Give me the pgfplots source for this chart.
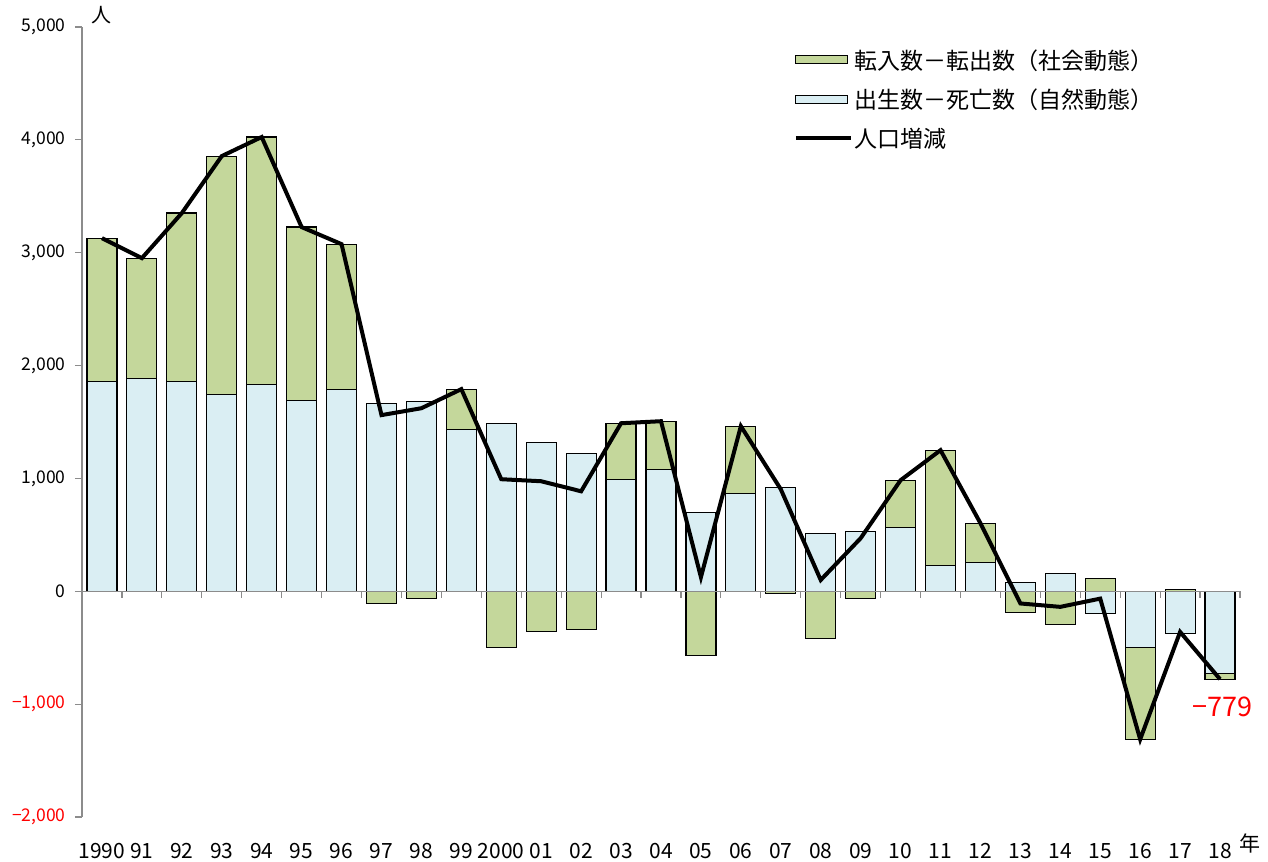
\documentclass[border=0pt]{standalone}
\usepackage{pgfplots}
\pgfplotsset{compat=1.18}
\usepackage{pgfplotstable}
\usepackage{fontspec}
\setmainfont{Noto Sans CJK JP}
\definecolor{socgreen}{HTML}{C4D79B}
\definecolor{natblue}{HTML}{DAEEF3}
\definecolor{axgray}{HTML}{8C8C8C}
% idx  nat = natural change, grn = far end of green bar (drawn from 0), tot = population change
\pgfplotstableread{
idx nat grn tot
0 1862 3129 3129
1 1888 2952 2952
2 1862 3351 3351
3 1746 3856 3856
4 1835 4025 4025
5 1693 3227 3227
6 1791 3076 3076
7 1667 -106 1561
8 1684 -62 1622
9 1436 1791 1791
10 1489 -496 993
11 1321 -355 975
12 1223 -337 886
13 993 1489 1489
14 1082 1507 1507
15 700 -567 125
16 869 1463 1463
17 922 -18 904
18 514 -417 100
19 532 -62 470
20 567 984 984
21 230 1250 1250
22 257 603 603
23 75 -186 -108
24 160 -293 -138
25 -195 115 -65
26 -496 -1312 -1312
27 -373 18 -360
28 -729 -779 -779
}\datatab
\begin{document}
\begin{tikzpicture}
\begin{axis}[
  scale only axis,
  width=1158pt, height=790pt,
  xmin=-0.5, xmax=28.5, ymin=-2000, ymax=5000,
  axis y line*=left,
  axis x line*=bottom,
  x axis line style={draw=none},
  y axis line style={draw=axgray, line width=1.2pt},
  xtick={0,...,28},
  xticklabels={1990,91,92,93,94,95,96,97,98,99,2000,01,02,03,04,05,06,07,08,09,10,11,12,13,14,15,16,17,18},
  major x tick style={draw=none},
  xticklabel style={font=\fontsize{21}{24}\selectfont, anchor=base, yshift=-34pt},
  ytick={-2000,-1000,0,1000,2000,3000,4000,5000},
  yticklabels={{\color{red}−2,000},{\color{red}−1,000},0,{1,000},{2,000},{3,000},{4,000},{5,000}},
  yticklabel style={font=\fontsize{17.5}{20}\selectfont, anchor=east, xshift=-6pt},
  major y tick style={draw=axgray, line width=1.2pt},
  tick align=outside,
  major tick length=7pt,
  clip=false,
  legend style={at={(rel axis cs:0.612,0.977)}, anchor=north west, draw=none, fill=none,
    font=\fontsize{23}{25}\selectfont, row sep=14pt,
    /tikz/every even column/.append style={column sep=3pt}},
  legend cell align=left,
]
\addplot[ybar, bar width=30pt, bar shift=0pt, fill=socgreen, draw=black, line width=1.2pt,
  legend image code/.code={\draw[fill=socgreen,draw=black,line width=1pt] (0pt,-4pt) rectangle (52pt,4pt);}]
  table[x=idx, y=grn] {\datatab};
\addlegendentry{転入数－転出数（社会動態）}
\addplot[ybar, bar width=30pt, bar shift=0pt, fill=natblue, draw=black, line width=1.2pt,
  legend image code/.code={\draw[fill=natblue,draw=black,line width=1pt] (0pt,-4pt) rectangle (52pt,4pt);}]
  table[x=idx, y=nat] {\datatab};
\addlegendentry{出生数－死亡数（自然動態）}
\draw[axgray, line width=1.2pt] (axis cs:-0.5,0) -- (axis cs:28.5,0);
\pgfplotsinvokeforeach{0,...,28}{
  \draw[axgray, line width=1.2pt] (axis cs:#1+0.5,0) -- ++(0pt,-7pt);
}
\addplot[black, line width=4pt, mark=none,
  legend image code/.code={\draw[black,line width=4pt] (0pt,0pt) -- (55pt,0pt);}]
  table[x=idx, y=tot] {\datatab};
\addlegendentry{人口増減}
\node[red, font=\fontsize{27}{30}\selectfont, anchor=center] at (axis cs:28.05,-1020) {−779};
\node[font=\fontsize{20}{22}\selectfont, anchor=center] at ([xshift=20pt,yshift=12pt]rel axis cs:0,1) {人};
\node[font=\fontsize{21}{24}\selectfont, anchor=base] at ([xshift=10pt,yshift=-34pt]axis cs:28.5,-2000) {年};
\end{axis}
\useasboundingbox (-82pt,-41pt) rectangle (1186pt,817pt);
\end{tikzpicture}
\end{document}
